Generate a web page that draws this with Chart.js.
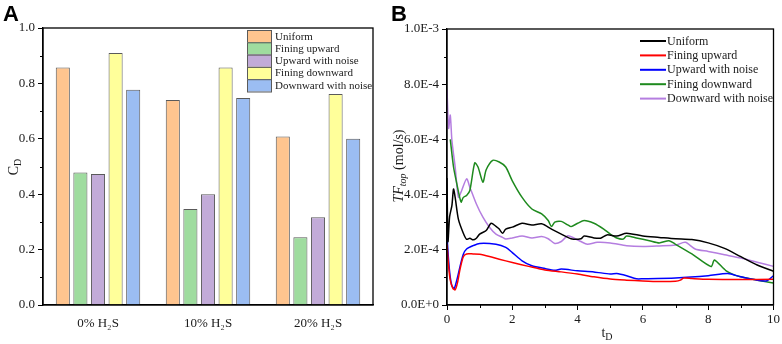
<!DOCTYPE html>
<html><head><meta charset="utf-8">
<script src="https://cdn.jsdelivr.net/npm/chart.js@4"></script>
<style>
body{margin:0;background:#fff;width:782px;height:344px;overflow:hidden;position:relative}
#a{position:absolute;left:0;top:0}
#b{position:absolute;left:390px;top:0}
</style></head><body>
<canvas id="a" width="390" height="344"></canvas>
<canvas id="b" width="392" height="344"></canvas>
<script>
// ---------- Panel A data ----------
const categories = ['0% H\u2082S', '10% H\u2082S', '20% H\u2082S'];
const seriesNames = ['Uniform', 'Fining upward', 'Upward with noise', 'Fining downward', 'Downward with noise'];
const cdUniform    = [0.857, 0.740, 0.608];
const cdFiningUp   = [0.478, 0.347, 0.245];
const cdUpNoise    = [0.473, 0.400, 0.317];
const cdFiningDown = [0.910, 0.857, 0.762];
const cdDownNoise  = [0.777, 0.747, 0.600];
const yTicksA = [0, 0.2, 0.4, 0.6, 0.8, 1.0];

// ---------- Panel B data (t_D, TF_top in mol/s) ----------
const tUniform = [0, 0.03, 0.08, 0.15, 0.2, 0.25, 0.35, 0.5, 0.6, 0.7, 0.8, 0.9, 1.0, 1.2, 1.35, 1.5, 1.6, 1.7, 1.8, 2.0, 2.3, 2.6, 2.9, 3.2, 3.5, 3.8, 4.1, 4.2, 4.5, 4.7, 4.9, 5.2, 5.5, 6.0, 6.5, 7.0, 7.5, 8.0, 8.5, 9.0, 9.5, 10];
const vUniform = [4.6e-4, 2.3e-4, 3.2e-4, 3.6e-4, 4.2e-4, 3.9e-4, 3.1e-4, 2.6e-4, 2.38e-4, 2.42e-4, 2.36e-4, 2.42e-4, 2.57e-4, 2.7e-4, 2.96e-4, 2.85e-4, 2.75e-4, 2.6e-4, 2.75e-4, 2.82e-4, 2.96e-4, 2.9e-4, 2.94e-4, 2.75e-4, 2.57e-4, 2.4e-4, 2.4e-4, 2.5e-4, 2.43e-4, 2.42e-4, 2.54e-4, 2.5e-4, 2.6e-4, 2.5e-4, 2.45e-4, 2.4e-4, 2.37e-4, 2.25e-4, 2.05e-4, 1.75e-4, 1.45e-4, 1.22e-4];

const tFiningUp = [0, 0.05, 0.1, 0.18, 0.25, 0.32, 0.4, 0.5, 0.6, 0.8, 1.0, 1.3, 1.6, 2.0, 2.5, 3.0, 3.5, 4.0, 4.5, 5.0, 5.5, 6.0, 6.5, 7.0, 7.15, 7.25, 7.5, 8.0, 9.0, 10];
const vFiningUp = [2.2e-4, 1.4e-4, 0.9e-4, 0.6e-4, 0.55e-4, 0.8e-4, 1.3e-4, 1.75e-4, 1.85e-4, 1.85e-4, 1.84e-4, 1.76e-4, 1.66e-4, 1.54e-4, 1.4e-4, 1.27e-4, 1.2e-4, 1.12e-4, 1.02e-4, 0.94e-4, 0.9e-4, 0.87e-4, 0.85e-4, 0.86e-4, 0.9e-4, 0.98e-4, 0.96e-4, 0.93e-4, 0.92e-4, 0.93e-4];

const tUpNoise = [0, 0.05, 0.1, 0.15, 0.22, 0.3, 0.4, 0.5, 0.6, 0.8, 1.0, 1.5, 1.8, 2.0, 2.3, 2.6, 3.0, 3.3, 3.5, 4.0, 4.5, 5.0, 5.2, 5.5, 5.8, 6.0, 7.0, 8.0, 8.6, 9.0, 9.5, 9.8, 10];
const vUpNoise = [2.5e-4, 1.6e-4, 1.0e-4, 0.7e-4, 0.6e-4, 0.9e-4, 1.4e-4, 1.84e-4, 2.03e-4, 2.15e-4, 2.23e-4, 2.2e-4, 2.09e-4, 1.9e-4, 1.6e-4, 1.42e-4, 1.32e-4, 1.26e-4, 1.3e-4, 1.24e-4, 1.2e-4, 1.12e-4, 1.14e-4, 1.06e-4, 0.95e-4, 0.95e-4, 0.98e-4, 1.06e-4, 1.14e-4, 1.02e-4, 0.9e-4, 0.88e-4, 1.06e-4];

const tFiningDown = [0.1, 0.2, 0.3, 0.43, 0.5, 0.6, 0.7, 0.85, 0.95, 1.1, 1.2, 1.4, 1.6, 1.8, 2.0, 2.3, 2.6, 2.9, 3.1, 3.2, 3.3, 3.5, 3.7, 3.8, 4.0, 4.2, 4.5, 4.8, 5.0, 5.2, 5.4, 5.5, 5.8, 6.2, 6.5, 6.8, 7.0, 7.5, 8.09, 8.19, 8.55, 8.96, 9.5, 10];
const vFiningDown = [6.0e-4, 5.0e-4, 4.4e-4, 3.73e-4, 3.9e-4, 3.97e-4, 4.15e-4, 5.15e-4, 5.0e-4, 4.45e-4, 4.9e-4, 5.24e-4, 5.18e-4, 5.0e-4, 4.5e-4, 3.9e-4, 3.48e-4, 3.3e-4, 3.06e-4, 2.84e-4, 3.0e-4, 3.03e-4, 2.9e-4, 2.84e-4, 2.96e-4, 3.06e-4, 2.96e-4, 2.75e-4, 2.57e-4, 2.43e-4, 2.39e-4, 2.5e-4, 2.43e-4, 2.33e-4, 2.25e-4, 2.33e-4, 2.2e-4, 1.85e-4, 1.39e-4, 1.63e-4, 1.24e-4, 1.03e-4, 0.9e-4, 0.8e-4];

const tDownNoise = [0, 0.05, 0.1, 0.15, 0.25, 0.35, 0.45, 0.6, 0.7, 0.9, 1.1, 1.3, 1.5, 1.7, 1.8, 2.0, 2.3, 2.6, 2.9, 3.1, 3.3, 3.5, 3.7, 3.9, 4.1, 4.3, 4.6, 5.0, 5.5, 6.0, 6.5, 7.0, 7.3, 7.6, 8.0, 8.5, 9.0, 9.5, 10];
const vDownNoise = [7.8e-4, 6.4e-4, 6.88e-4, 5.97e-4, 5.0e-4, 3.9e-4, 4.15e-4, 4.57e-4, 4.27e-4, 3.66e-4, 3.18e-4, 2.82e-4, 2.57e-4, 2.45e-4, 2.39e-4, 2.43e-4, 2.5e-4, 2.43e-4, 2.48e-4, 2.4e-4, 2.23e-4, 2.3e-4, 2.51e-4, 2.42e-4, 2.3e-4, 2.2e-4, 2.27e-4, 2.25e-4, 2.15e-4, 2.12e-4, 2.14e-4, 2.17e-4, 2.27e-4, 2.03e-4, 1.94e-4, 1.82e-4, 1.7e-4, 1.55e-4, 1.4e-4];

const FONT = "'Liberation Serif', 'Times New Roman', serif";
Chart.defaults.font.family = FONT;
Chart.defaults.color = '#1a1a1a';

const barFill   = ['#FFC58F', '#9FDC9F', '#C2ABD8', '#FFFF9A', '#9BBDF2'];
const lineColor = ['#000000', '#FF0000', '#0000FF', '#1E8A1E', '#B57EE0'];

function decorPlugin(cfg) {
  return {
    id: 'decor',
    afterDraw(chart) {
      const ctx = chart.ctx, ca = chart.chartArea;
      ctx.save();
      ctx.strokeStyle = '#000'; ctx.lineWidth = 1.3;
      ctx.strokeRect(ca.left, ca.top, ca.right - ca.left, ca.bottom - ca.top);
      ctx.lineWidth = 1;
      if (cfg.minorY) {
        const s = chart.scales.y;
        for (let v = s.min + cfg.minorY; v < s.max; v += 2 * cfg.minorY) {
          const p = Math.round(s.getPixelForValue(v)) + 0.5;
          ctx.beginPath(); ctx.moveTo(ca.left, p); ctx.lineTo(ca.left - 3, p); ctx.stroke();
        }
      }
      if (cfg.minorX) {
        const s = chart.scales.x;
        for (let v = s.min + cfg.minorX; v < s.max; v += 2 * cfg.minorX) {
          const p = Math.round(s.getPixelForValue(v)) + 0.5;
          ctx.beginPath(); ctx.moveTo(p, ca.bottom); ctx.lineTo(p, ca.bottom + 3); ctx.stroke();
        }
      }
      ctx.fillStyle = '#000';
      ctx.font = "bold 22px 'Liberation Sans', Arial, sans-serif";
      ctx.textBaseline = 'top'; ctx.textAlign = 'left';
      ctx.fillText(cfg.letter, cfg.letterX, 4);
      cfg.titles(ctx, chart);
      cfg.legend(ctx, chart);
      ctx.restore();
    }
  };
}

// ---------- Chart A ----------
const barSeries = [cdUniform, cdFiningUp, cdUpNoise, cdFiningDown, cdDownNoise];
new Chart(document.getElementById('a'), {
  type: 'bar',
  data: {
    labels: categories,
    datasets: barSeries.map((d, i) => ({
      label: seriesNames[i], data: d,
      backgroundColor: barFill[i], borderColor: '#5a5a5a', borderWidth: 1,
      categoryPercentage: 0.8, barPercentage: 0.8
    }))
  },
  options: {
    responsive: false, animation: false,
    layout: { padding: { top: 28, right: 17, left: 0, bottom: 0 } },
    plugins: { legend: { display: false }, tooltip: { enabled: false } },
    scales: {
      x: {
        grid: { display: false },
        border: { display: true, color: '#000', width: 1.3 },
        ticks: { font: { size: 13 }, color: '#1a1a1a', padding: 3 },
        afterFit: s => { s.height = 39; }
      },
      y: {
        min: 0, max: 1,
        afterBuildTicks: s => { s.ticks = yTicksA.map(v => ({ value: v })); },
        grid: { drawOnChartArea: false, tickLength: 5, color: '#000', tickWidth: 1 },
        border: { display: true, color: '#000', width: 1.3 },
        ticks: { font: { size: 13 }, color: '#1a1a1a', padding: 3, callback: v => Number(v).toFixed(1) },
        afterFit: s => { s.width = 43; }
      }
    }
  },
  plugins: [decorPlugin({
    letter: 'A', letterX: 3, minorY: 0.1,
    titles(ctx, chart) {
      ctx.save();
      ctx.translate(14, 167); ctx.rotate(-Math.PI / 2);
      ctx.fillStyle = '#1a1a1a'; ctx.textBaseline = 'middle'; ctx.textAlign = 'left';
      ctx.font = `14px ${FONT}`;
      const w1 = ctx.measureText('C').width;
      ctx.font = `10px ${FONT}`;
      const w2 = ctx.measureText('D').width;
      const x0 = -(w1 + w2) / 2;
      ctx.font = `14px ${FONT}`; ctx.fillText('C', x0, 0);
      ctx.font = `10px ${FONT}`; ctx.fillText('D', x0 + w1, 4);
      ctx.restore();
    },
    legend(ctx, chart) {
      const x = 247, y0 = 30, h = 12.3, bw = 24;
      ctx.font = `11px ${FONT}`; ctx.textBaseline = 'middle'; ctx.textAlign = 'left';
      chart.data.datasets.forEach((ds, i) => {
        const y = y0 + i * h;
        ctx.fillStyle = ds.backgroundColor; ctx.fillRect(x, y, bw, h);
        ctx.strokeStyle = '#5a5a5a'; ctx.lineWidth = 1; ctx.strokeRect(x + 0.5, y + 0.5, bw, h);
        ctx.fillStyle = '#1a1a1a'; ctx.fillText(ds.label, x + bw + 4, y + h / 2 + 0.5);
      });
    }
  })]
});

// ---------- Chart B ----------
const lineT = [tUniform, tFiningUp, tUpNoise, tFiningDown, tDownNoise];
const lineV = [vUniform, vFiningUp, vUpNoise, vFiningDown, vDownNoise];
new Chart(document.getElementById('b'), {
  type: 'line',
  data: {
    datasets: lineT.map((ts, i) => ({
      label: seriesNames[i],
      data: ts.map((t, k) => ({ x: t, y: lineV[i][k] })),
      borderColor: lineColor[i], borderWidth: 1.5, pointRadius: 0, tension: 0.25, fill: false
    }))
  },
  options: {
    responsive: false, animation: false,
    layout: { padding: { top: 29, right: 8, left: 0, bottom: 0 } },
    plugins: { legend: { display: false }, tooltip: { enabled: false } },
    scales: {
      x: {
        type: 'linear', min: 0, max: 10,
        ticks: { stepSize: 2, font: { size: 13 }, color: '#1a1a1a', padding: 2 },
        grid: { drawOnChartArea: false, tickLength: 5, color: '#000' },
        border: { display: true, color: '#000', width: 1.3 },
        afterFit: s => { s.height = 39; }
      },
      y: {
        min: 0, max: 1e-3,
        ticks: { stepSize: 2e-4, font: { size: 13 }, color: '#1a1a1a', padding: 3,
                 callback: v => Number(v).toExponential(1).toUpperCase() },
        grid: { drawOnChartArea: false, tickLength: 5, color: '#000' },
        border: { display: true, color: '#000', width: 1.3 },
        afterFit: s => { s.width = 57; }
      }
    }
  },
  plugins: [decorPlugin({
    letter: 'B', letterX: 1, minorY: 1e-4, minorX: 1,
    titles(ctx, chart) {
      ctx.save();
      ctx.translate(9, 166); ctx.rotate(-Math.PI / 2);
      ctx.fillStyle = '#1a1a1a'; ctx.textBaseline = 'middle'; ctx.textAlign = 'left';
      const big = `italic 14px ${FONT}`, sub = `italic 10px ${FONT}`, norm = `14px ${FONT}`;
      ctx.font = big; const w1 = ctx.measureText('TF').width;
      ctx.font = sub; const w2 = ctx.measureText('top').width;
      ctx.font = norm; const w3 = ctx.measureText(' (mol/s)').width;
      let x0 = -(w1 + w2 + w3) / 2;
      ctx.font = big; ctx.fillText('TF', x0, 0);
      ctx.font = sub; ctx.fillText('top', x0 + w1, 4);
      ctx.font = norm; ctx.fillText(' (mol/s)', x0 + w1 + w2, 0);
      ctx.restore();
      ctx.save();
      ctx.fillStyle = '#1a1a1a'; ctx.textBaseline = 'middle'; ctx.textAlign = 'left';
      ctx.font = `14px ${FONT}`; const a = ctx.measureText('t').width;
      ctx.font = `10px ${FONT}`; const b = ctx.measureText('D').width;
      const cx = 217 - (a + b) / 2;
      ctx.font = `14px ${FONT}`; ctx.fillText('t', cx, 333);
      ctx.font = `10px ${FONT}`; ctx.fillText('D', cx + a, 337);
      ctx.restore();
    },
    legend(ctx, chart) {
      const x = 250, y0 = 41, h = 14.4, lw = 26;
      ctx.font = `12px ${FONT}`; ctx.textBaseline = 'middle'; ctx.textAlign = 'left';
      chart.data.datasets.forEach((ds, i) => {
        const y = y0 + i * h;
        ctx.strokeStyle = ds.borderColor; ctx.lineWidth = 2;
        ctx.beginPath(); ctx.moveTo(x, y); ctx.lineTo(x + lw, y); ctx.stroke();
        ctx.fillStyle = '#1a1a1a'; ctx.fillText(ds.label, x + lw + 1, y + 0.5);
      });
    }
  })]
});
</script>
</body></html>
